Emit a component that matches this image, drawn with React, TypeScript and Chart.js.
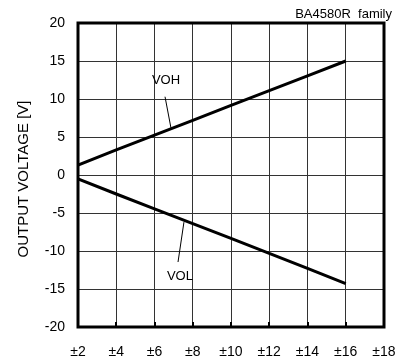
import React, { useEffect, useRef } from "react";
import { Chart, registerables } from "chart.js";

Chart.register(...registerables);

const supplyVoltage = [2, 4, 6, 8, 10, 12, 14, 16];
const vohValues = [1.3, 3.3, 5.25, 7.2, 9.15, 11.1, 13.05, 15.0];
const volValues = [-0.5, -2.5, -4.45, -6.4, -8.35, -10.3, -12.3, -14.3];
const xTicks = [2, 4, 6, 8, 10, 12, 14, 16, 18];
const yTicks = [-20, -15, -10, -5, 0, 5, 10, 15, 20];
const titleText = "BA4580R  family";
const yTitle = "OUTPUT VOLTAGE [V]";

const FONT = "'Liberation Sans', Arial, sans-serif";

const overlayPlugin = {
  id: "overlay",
  afterDraw(chart: any) {
    const { ctx, chartArea, scales } = chart;
    const xs = scales.x;
    const ys = scales.y;
    ctx.save();
    // small tick stubs at bottom
    ctx.strokeStyle = "#000";
    ctx.lineWidth = 2;
    ctx.beginPath();
    xTicks.forEach((v) => {
      const px = Math.round(xs.getPixelForValue(v));
      ctx.moveTo(px, chartArea.bottom);
      ctx.lineTo(px, chartArea.bottom - 5);
    });
    ctx.stroke();
    // frame
    ctx.lineWidth = 3;
    ctx.strokeRect(chartArea.left, chartArea.top, chartArea.right - chartArea.left, chartArea.bottom - chartArea.top);
    // title
    ctx.fillStyle = "#000";
    ctx.font = `13px ${FONT}`;
    ctx.textAlign = "right";
    ctx.textBaseline = "middle";
    ctx.fillText(titleText, chartArea.right + 8, chartArea.top - 9);
    // y title
    ctx.save();
    ctx.translate(24, (chartArea.top + chartArea.bottom) / 2 + 4);
    ctx.rotate(-Math.PI / 2);
    ctx.font = `15px ${FONT}`;
    ctx.textAlign = "center";
    ctx.textBaseline = "middle";
    ctx.fillText(yTitle, 0, 0);
    ctx.restore();
    // labels
    ctx.font = `13px ${FONT}`;
    ctx.textAlign = "center";
    ctx.textBaseline = "middle";
    ctx.fillText("VOH", xs.getPixelForValue(6.6), ys.getPixelForValue(12.5));
    ctx.fillText("VOL", xs.getPixelForValue(7.33), ys.getPixelForValue(-13.3));
    // leaders
    ctx.lineWidth = 1;
    ctx.beginPath();
    ctx.moveTo(xs.getPixelForValue(6.55), ys.getPixelForValue(10.3));
    ctx.lineTo(xs.getPixelForValue(6.86), ys.getPixelForValue(6.2));
    ctx.moveTo(xs.getPixelForValue(7.54), ys.getPixelForValue(-6.2));
    ctx.lineTo(xs.getPixelForValue(7.23), ys.getPixelForValue(-11.45));
    ctx.stroke();
    ctx.restore();
  },
};

export default function App() {
  const ref = useRef<HTMLCanvasElement>(null);
  useEffect(() => {
    document.body.style.margin = "0";
    const chart = new Chart(ref.current!, {
      type: "line",
      data: {
        datasets: [
          {
            label: "VOH",
            data: supplyVoltage.map((x, i) => ({ x, y: vohValues[i] })),
            borderColor: "#000",
            borderWidth: 3,
            pointRadius: 0,
            tension: 0,
          },
          {
            label: "VOL",
            data: supplyVoltage.map((x, i) => ({ x, y: volValues[i] })),
            borderColor: "#000",
            borderWidth: 3,
            pointRadius: 0,
            tension: 0,
          },
        ],
      },
      options: {
        animation: false,
        responsive: false,
        maintainAspectRatio: false,
        layout: { padding: { left: 0, right: 22, top: 23, bottom: 0 } },
        plugins: { legend: { display: false }, tooltip: { enabled: false } },
        scales: {
          x: {
            type: "linear",
            min: 2,
            max: 18,
            afterBuildTicks: (s: any) => {
              s.ticks = xTicks.map((v) => ({ value: v }));
            },
            afterFit: (s: any) => {
              s.height = 36;
              s.paddingRight = 0;
              s.paddingLeft = 0;
            },
            ticks: {
              color: "#000",
              font: { family: FONT, size: 14 },
              padding: 17,
              maxRotation: 0,
              autoSkip: false,
              callback: (v: any) => "±" + v,
            },
            grid: { color: "#333", lineWidth: 1, tickLength: 0 },
            border: { display: false },
          },
          y: {
            type: "linear",
            min: -20,
            max: 20,
            afterBuildTicks: (s: any) => {
              s.ticks = yTicks.map((v) => ({ value: v }));
            },
            afterFit: (s: any) => {
              s.width = 78;
            },
            ticks: {
              color: "#000",
              font: { family: FONT, size: 14 },
              padding: 13,
              autoSkip: false,
            },
            grid: { color: "#333", lineWidth: 1, tickLength: 0 },
            border: { display: false },
          },
        },
      },
      plugins: [overlayPlugin],
    });
    return () => chart.destroy();
  }, []);
  return (
    <div style={{ width: 406, height: 363 }}>
      <canvas ref={ref} width={406} height={363} style={{ width: 406, height: 363 }} />
    </div>
  );
}
